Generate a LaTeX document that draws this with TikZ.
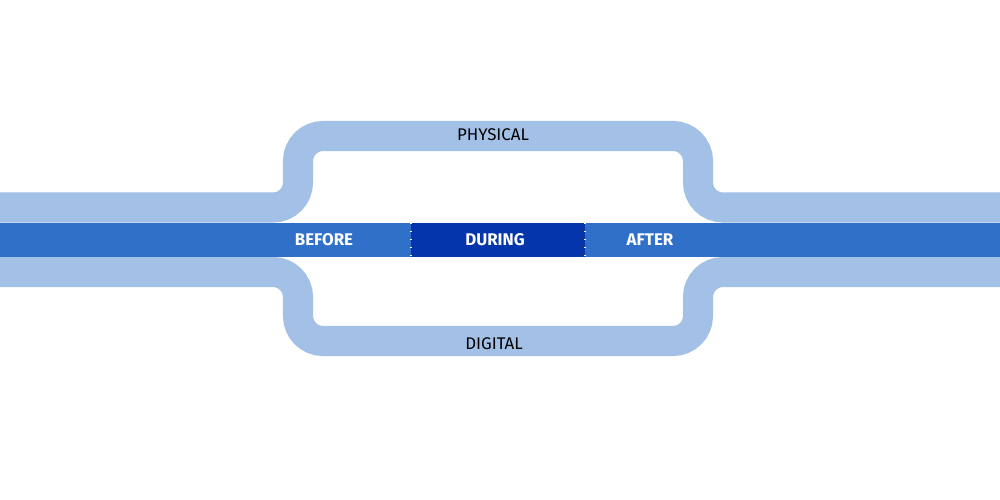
\documentclass[tikz,border=0pt]{standalone}
\usepackage{fontspec}
\setmainfont{Fira Sans}
\definecolor{bandlight}{HTML}{A3C0E6}
\definecolor{bardark}{HTML}{3070C8}
\definecolor{duringblue}{HTML}{0535AA}
\begin{document}
\begin{tikzpicture}[x=0.01cm,y=-0.01cm,
  band/.style={draw=bandlight,line width=0.3cm,rounded corners=0.25cm},
  barlabel/.style={text=white,font=\fontsize{4.8}{5}\selectfont\bfseries},
  pathlabel/.style={text=black,font=\fontsize{4.8}{5}\selectfont}]
\useasboundingbox (0,0) rectangle (1000,500);
\fill[white] (0,0) rectangle (1000,500);
\begin{scope}
\clip (0,0) rectangle (1000,500);
% upper path
\draw[band] (-20,207.5) -- (298,207.5) -- (298,136) -- (698,136) -- (698,207.5) -- (1020,207.5);
% lower path
\draw[band] (-20,272) -- (298,272) -- (298,341) -- (698,341) -- (698,272) -- (1020,272);
% bar
\fill[bardark] (0,223) rectangle (1000,256.5);
\fill[duringblue] (411,223) rectangle (585,256.5);
\draw[white,dotted,line width=0.3pt] (411,223) -- (411,256.5);
\draw[white,dotted,line width=0.3pt] (585,223) -- (585,256.5);
\end{scope}
\node[barlabel] (before) at (324,240) {BEFORE};
\node[barlabel] (during) at (495,240) {DURING};
\node[barlabel] (after) at (650,240) {AFTER};
\node[pathlabel] (physical) at (493,135) {PHYSICAL};
\node[pathlabel] (digital) at (494,344) {DIGITAL};
\end{tikzpicture}
\end{document}
